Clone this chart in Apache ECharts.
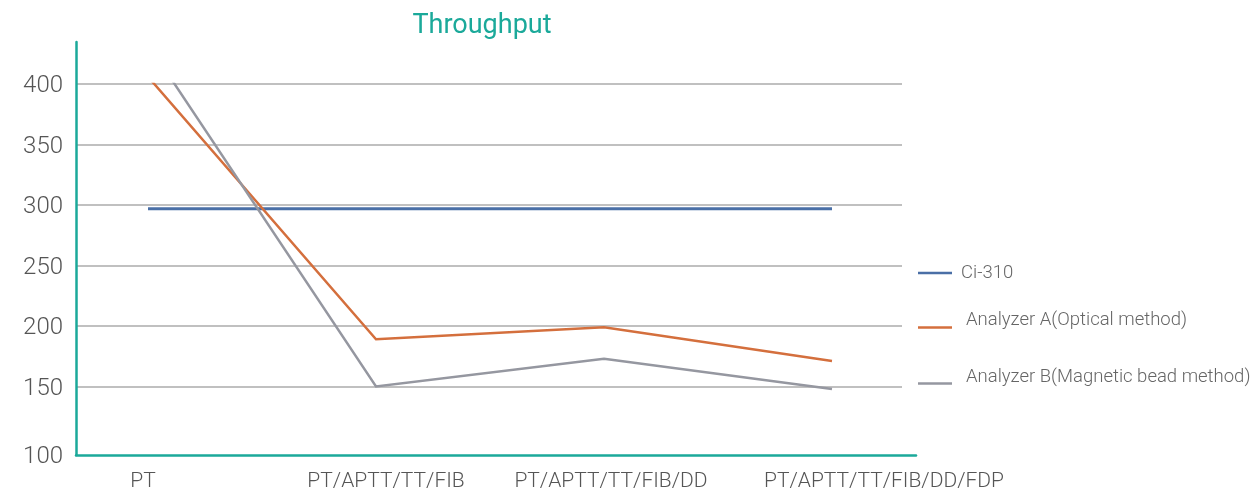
<!DOCTYPE html>
<html>
<head>
<meta charset="utf-8">
<script src="https://cdn.jsdelivr.net/npm/echarts@6/dist/echarts.min.js"></script>
<style>html,body{margin:0;padding:0;background:#fff;}#chart{width:1255px;height:500px;}</style>
</head>
<body>
<div id="chart"></div>
<script>
var categories = ['PT', 'PT/APTT/TT/FIB', 'PT/APTT/TT/FIB/DD', 'PT/APTT/TT/FIB/DD/FDP'];
var seriesNames = ['Ci-310', 'Analyzer A(Optical method)', 'Analyzer B(Magnetic bead method)'];
var ci310 = [297, 297, 297, 297];
var analyzerA = [406, 189, 199, 171];
var analyzerB = [433, 150, 173, 148];
var yTicks = { min: 100, max: 400, interval: 50 };

var FONT = 'Roboto';
var TEAL = '#1ba99a';
var colors = ['#4a6fa6', '#d46f3d', '#9597a0'];

var chart = echarts.init(document.getElementById('chart'), null, { renderer: 'canvas' });

var labelShift = { a0: [0, 10, 0, 0], a1: [0, 0, 0, 20], a2: [0, 0, 0, 14], a3: [0, 0, 0, 104] };
var xRich = {};
Object.keys(labelShift).forEach(function (k) {
  xRich[k] = { fontFamily: FONT, fontWeight: 300, fontSize: 21, color: '#555', padding: labelShift[k] };
});

function legendItem(name, top, lift) {
  return {
    data: [name], left: 918, top: top, padding: 0, orient: 'vertical',
    icon: 'rect', itemWidth: 34, itemHeight: 2.5,
    formatter: function (n) { return lift ? n + '\n' : n; },
    textStyle: { fontFamily: FONT, fontWeight: 300, fontSize: 18.5, lineHeight: lift ? lift * 2 : 22,
      color: '#666', padding: [0, 0, 0, lift ? 9 : 4] }
  };
}

var option = {
  animation: false,
  color: colors,
  title: {
    text: 'Throughput', left: 482, top: 13, textAlign: 'center', padding: 0,
    textStyle: { fontFamily: FONT, fontWeight: 400, fontSize: 27, color: TEAL }
  },
  legend: [
    legendItem(seriesNames[0], 262, 0),
    legendItem(seriesNames[1], 311, 7),
    legendItem(seriesNames[2], 368, 6)
  ],
  grid: [
    { left: 76, right: 339, top: 42, bottom: 45 },
    { left: 76, right: 353, top: 84, bottom: 53 },
    { left: 148, right: 423, top: 84, bottom: 53 }
  ],
  xAxis: [
    { gridIndex: 0, type: 'value', min: 0, max: 1,
      axisLine: { show: true, onZero: false, lineStyle: { color: TEAL, width: 2.5 } },
      axisTick: { show: false }, axisLabel: { show: false }, splitLine: { show: false } },
    { gridIndex: 1, type: 'value', min: 0, max: 1, show: false },
    { gridIndex: 2, type: 'category', data: categories, boundaryGap: false,
      axisLine: { show: false }, axisTick: { show: false }, splitLine: { show: false },
      axisLabel: {
        interval: 0, margin: 24,
        formatter: function (v, i) { return '{a' + i + '|' + v + '}'; },
        rich: xRich
      } }
  ],
  yAxis: [
    { gridIndex: 0, type: 'value', min: 0, max: 1,
      axisLine: { show: true, onZero: false, lineStyle: { color: TEAL, width: 2.5 } },
      axisTick: { show: false }, axisLabel: { show: false }, splitLine: { show: false } },
    { gridIndex: 1, type: 'value', min: yTicks.min, max: yTicks.max, interval: yTicks.interval,
      axisLine: { show: false }, axisTick: { show: false },
      splitLine: { show: true, showMinLine: false, lineStyle: { color: '#ababab', width: 1.5 } },
      axisLabel: {
        margin: 13, fontFamily: FONT, fontWeight: 300, fontSize: 24, color: '#555',
        formatter: function (v) { return v === yTicks.min ? '{low|' + v + '}' : '{n|' + v + '}'; },
        rich: {
          n: { fontFamily: FONT, fontWeight: 300, fontSize: 24, color: '#555', padding: [4, 0, 0, 0] },
          low: { fontFamily: FONT, fontWeight: 300, fontSize: 24, color: '#555', padding: [20, 0, 0, 0] }
        }
      } },
    { gridIndex: 2, type: 'value', min: yTicks.min, max: yTicks.max, show: false }
  ],
  series: [
    { name: seriesNames[0], type: 'line', xAxisIndex: 2, yAxisIndex: 2, data: ci310,
      showSymbol: false, symbol: 'none', lineStyle: { width: 3, color: colors[0] } },
    { name: seriesNames[1], type: 'line', xAxisIndex: 2, yAxisIndex: 2, data: analyzerA,
      showSymbol: false, symbol: 'none', lineStyle: { width: 2.5, color: colors[1], join: 'miter' } },
    { name: seriesNames[2], type: 'line', xAxisIndex: 2, yAxisIndex: 2, data: analyzerB,
      showSymbol: false, symbol: 'none', lineStyle: { width: 2.5, color: colors[2], join: 'miter' } }
  ]
};
chart.setOption(option);
</script>
</body>
</html>
